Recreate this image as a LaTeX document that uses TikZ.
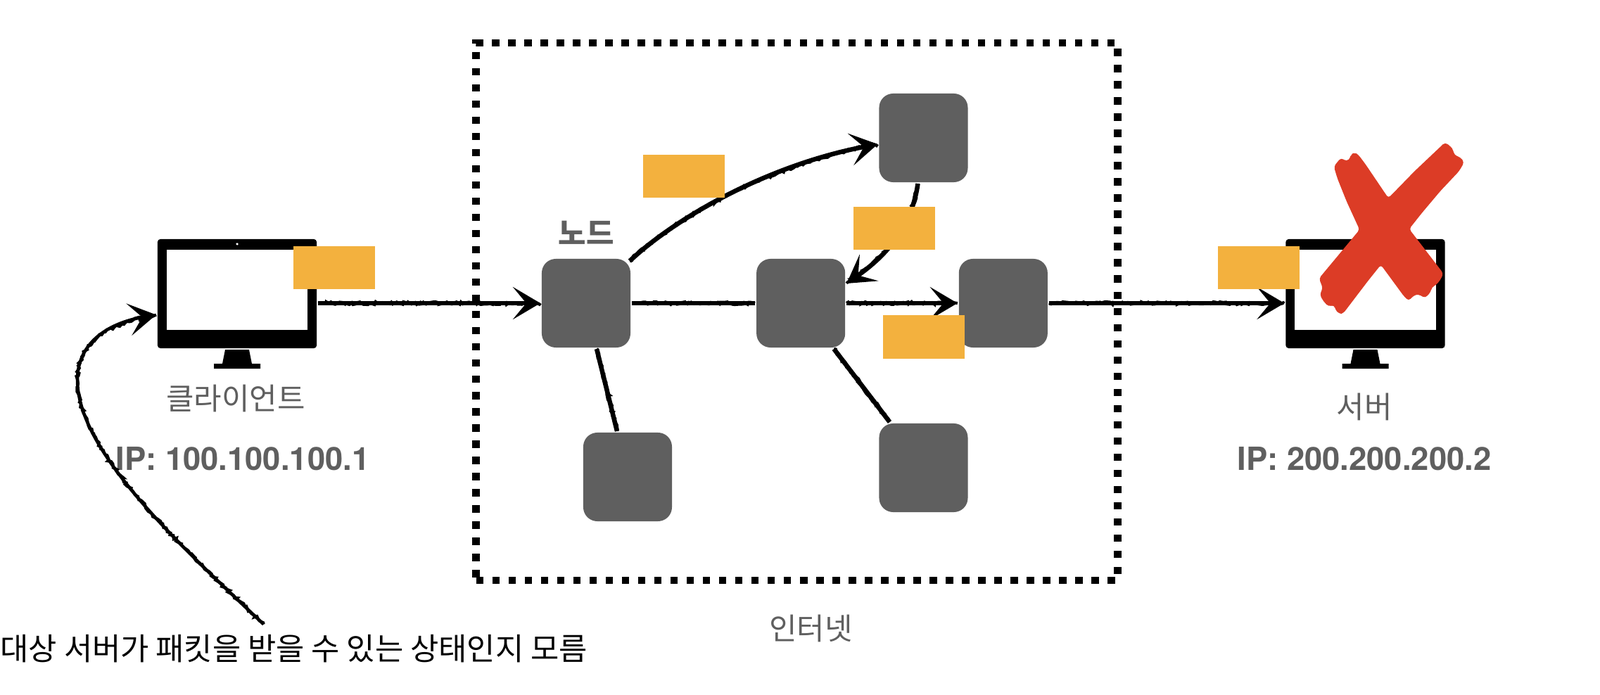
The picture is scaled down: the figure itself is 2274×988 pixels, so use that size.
\documentclass[tikz,border=0pt]{standalone}
\usepackage{fontspec}
\usepackage{xcolor}
\setmainfont{Noto Sans CJK KR}
\newfontfamily\ipfont{TeX Gyre Heros}
\usetikzlibrary{calc,positioning,arrows.meta,decorations.pathmorphing}
\definecolor{NetGray}{HTML}{5F5F5F}
\definecolor{NetOrange}{HTML}{F3B13E}
\definecolor{NetRed}{HTML}{DC3C26}
\tikzset{
  netNode/.style={
    fill=NetGray,
    rounded corners=0.2cm,
    minimum width=1.26cm,
    minimum height=1.26cm,
    inner sep=0pt,
    outer sep=0.02cm
  },
  netPacket/.style={
    fill=NetOrange,
    minimum width=1.16cm,
    minimum height=0.61cm,
    inner sep=0pt
  },
  netFrame/.style={
    draw=black,
    line width=0.105cm,
    dash pattern=on 0.105cm off 0.125cm,
    minimum width=9.11cm,
    minimum height=7.64cm,
    inner sep=0pt
  },
  netMonitor/.style={
    fill=black,
    rounded corners=0.04cm,
    minimum width=2.26cm,
    minimum height=1.55cm,
    inner sep=0pt,
    outer sep=0.02cm
  },
  netScreen/.style={
    fill=white,
    minimum width=2cm,
    minimum height=1.14cm,
    inner sep=0pt
  },
  netLabel/.style={
    font=\fontsize{12.2pt}{14pt}\selectfont,
    text=NetGray,
    inner sep=0pt
  },
  netAddress/.style={
    font=\ipfont\bfseries\fontsize{12.9pt}{15pt}\selectfont,
    text=NetGray,
    inner sep=0pt
  },
  netLine/.style={
    line width=0.065cm,
    postaction={
      draw,-,line width=0.04cm,decorate,
      decoration={random steps,segment length=0.9pt,amplitude=0.6pt}
    }
  },
  netArrow/.style={
    netLine,
    -{Stealth[length=0.39cm,width=0.46cm,inset=0.19cm]}
  }
}
\begin{document}
\begin{tikzpicture}[x=0.01cm,y=-0.01cm]
  \useasboundingbox (0,0) rectangle (2274,988);
  \node (inet) [netFrame] at (1132.5,443) {};
  \node (inetLabel) [netLabel, below=0.43cm of inet, xshift=0.2cm] {인터넷};

  \node (nLeft) [netNode] at (833,431) {};
  \node (nMid) [netNode, right=1.75cm of nLeft] {};
  \node (nRight) [netNode, right=1.575cm of nMid] {};
  \node (nTop) [netNode] at (1312.5,196) {};
  \node (nBotLeft) [netNode] at (892,678) {};
  \node (nBotRight) [netNode] at (1312.5,665) {};
  \node (nLeftLabel) [netLabel, font=\bfseries\fontsize{12.2pt}{14pt}\selectfont, above=0.18cm of nLeft] {노드};

  % client and server
  \node (client) [netMonitor] at (337,417.5) {};
  \node (clientScreen) [netScreen] at (337,412) {};
  \node (clientCam) [circle, fill=white, inner sep=0pt, minimum size=0.035cm] at (337,347) {};
  \fill (client.south) ++(-17,0) -- ++(34,0) -- ++(4,20) -- ++(12,0) -- ++(0,7) -- ++(-66,0) -- ++(0,-7) -- ++(12,0) -- cycle;
  \node (clientLabel) [netLabel] at (335,566) {클라이언트};
  \node (clientIp) [netAddress] at (345,652) {IP: 100.100.100.1};

  \node (server) [netMonitor] at (1940.5,417.5) {};
  \node (serverScreen) [netScreen] at (1940.5,412) {};
  \fill (server.south) ++(-17,0) -- ++(34,0) -- ++(4,20) -- ++(12,0) -- ++(0,7) -- ++(-66,0) -- ++(0,-7) -- ++(12,0) -- cycle;
  \node (serverLabel) [netLabel] at (1939,578) {서버};
  \node (serverIp) [netAddress] at (1939,652) {IP: 200.200.200.2};

  \node (note) [netLabel, text=black, font=\fontsize{12.45pt}{14pt}\selectfont, anchor=west] at (0,922) {대상 서버가 패킷을 받을 수 있는 상태인지 모름};

  % connectors
  \draw [netArrow] (nLeft.west -| client.east) -- (nLeft.west);
  \draw [netLine] (nLeft.east) -- (nMid.west);
  \draw [netArrow] (nMid.east) -- (nRight.west);
  \draw [netArrow] (nRight.east) -- (nRight.east -| server.west);
  \draw [netArrow] ([xshift=-0.03cm,yshift=-0.05cm]nLeft.north east) .. controls (960,310) and (1090,235) .. ([yshift=-0.09cm]nTop.west);
  \draw [netArrow] ([xshift=-0.08cm]nTop.south) .. controls (1295,330) and (1250,370) .. ([yshift=0.28cm]nMid.east);
  \draw [netLine] ([xshift=0.15cm]nLeft.south) -- ([xshift=-0.15cm]nBotLeft.north);
  \draw [netLine] ([xshift=0.47cm]nMid.south) -- ([xshift=-0.48cm]nBotRight.north);
  \draw [netArrow, line width=0.045cm] ([xshift=-0.43cm,yshift=0.14cm]note.north) .. controls (250,770) and (110,640) .. (110,540) .. controls (110,490) and (150,460) .. ([yshift=-0.3cm]client.west);

  \node (pktClient) [netPacket] at (475,380.5) {};
  \node (pktUp) [netPacket] at (972,250.5) {};
  \node (pktDown) [netPacket] at (1271,324.5) {};
  \node (pktMid) [netPacket] at (1313,479) {};
  \node (pktServer) [netPacket] at (1789,380.5) {};

  \begin{scope}[shift={(17cm,-1.8cm)},x=0.003333cm,y=-0.003333cm]
    \fill [NetRed, rounded corners=0.04cm] (585,170) -- (615,133) -- (640,148) -- (655,135) -- (658,118) -- (675,110) -- (690,120) -- (720,160) -- (818,305) -- (930,190) -- (1060,67) -- (1085,85) -- (1095,100) -- (1100,122) -- (1125,130) -- (1142,152) -- (1120,190) -- (1040,275) -- (960,370) -- (907,437) -- (1053,627) -- (1040,655) -- (1020,678) -- (1003,685) -- (1000,705) -- (975,732) -- (945,715) -- (925,722) -- (905,744) -- (885,725) -- (786,590) -- (730,660) -- (625,798) -- (608,800) -- (590,780) -- (588,762) -- (562,768) -- (540,745) -- (525,717) -- (538,690) -- (522,648) -- (695,440) -- (640,320) -- (600,220) -- cycle;
  \end{scope}
\end{tikzpicture}
\end{document}
